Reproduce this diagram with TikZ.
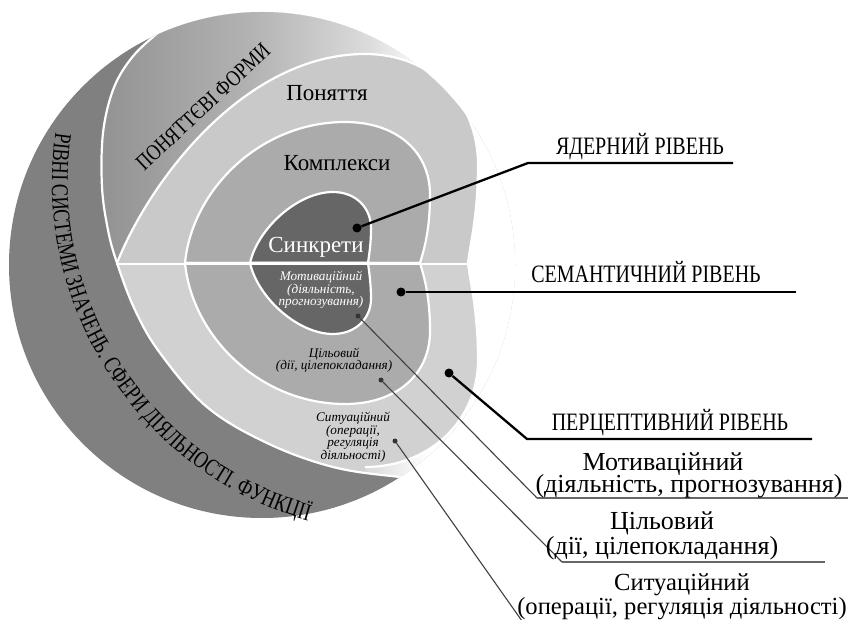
\documentclass[tikz,border=0pt]{standalone}
\usepackage{fontspec}
\setmainfont{Liberation Serif}
\newfontfamily\capsfont[FakeStretch=0.8]{Liberation Serif}
\newfontfamily\bandfont[FakeStretch=0.77]{Liberation Serif}
\usetikzlibrary{decorations.text}
\usetikzlibrary{positioning}
\pgfdeclarehorizontalshading{topface}{100bp}{color(0bp)=(black!42); color(26bp)=(black!42); color(43bp)=(black!30); color(57bp)=(black!14); color(64bp)=(white); color(100bp)=(white)}
\tikzstyle{whiteline} = [draw=white,line width=2.2pt]
% rim of the upper face of the disc
\newcommand{\facerim}{plot[smooth,tension=0.6] coordinates {(188,-10) (153,-37) (130,-60) (113,-90) (103,-133) (102,-187) (108,-230) (117,-263) (135,-310) (160,-353) (207,-407) (267,-443) (333,-467) (400,-477) (470,-483)}}
% hearts: upper and lower lobes
\newcommand{\outerupper}{(117,-263) .. controls (150,-180) and (245,-54) .. (365,-54) .. controls (430,-54) and (478,-100) .. (478,-165) .. controls (478,-215) and (470,-245) .. (468,-263)}
\newcommand{\outerlower}{(468,-263) .. controls (470,-281) and (478,-311) .. (478,-360) .. controls (478,-420) and (430,-467) .. (365,-467)}
\newcommand{\midupper}{(185,-263) .. controls (192,-190) and (260,-122) .. (345,-122) .. controls (396,-122) and (430,-151) .. (430,-195) .. controls (430,-230) and (424,-250) .. (420,-263)}
\newcommand{\midlower}{(420,-263) .. controls (424,-276) and (430,-296) .. (430,-331) .. controls (430,-375) and (396,-404) .. (345,-404) .. controls (260,-404) and (192,-336) .. (185,-263)}
\newcommand{\coreupper}{(250,-263) .. controls (258,-228) and (298,-192) .. (333,-192) .. controls (356,-192) and (371,-208) .. (371,-228) .. controls (371,-245) and (369,-255) .. (368,-263)}
\newcommand{\corelower}{(368,-263) .. controls (369,-271) and (371,-283) .. (371,-299) .. controls (371,-318) and (356,-334) .. (333,-334) .. controls (298,-334) and (258,-298) .. (250,-263)}

\begin{document}
\begin{tikzpicture}[x=1pt,y=1pt,
    main leader/.style={line width=2.3pt,black},
    sub leader/.style={line width=1.1pt,black!75},
    sub line/.style={line width=2pt,black!60},
    main dot/.style={circle,fill=black,minimum size=9pt,inner sep=0pt},
    sub dot/.style={circle,fill=black!80,minimum size=5pt,inner sep=0pt},
    level label/.style={font=\capsfont\fontsize{25}{28}\selectfont,anchor=base,inner sep=0pt},
    kind label/.style={font=\fontsize{26}{23}\selectfont,align=center,anchor=base,inner sep=0pt},
    band label/.style={font=\fontsize{23}{26}\selectfont,anchor=base,inner sep=0pt},
    small label/.style={font=\itshape\fontsize{13.2}{12.5}\selectfont,align=center,inner sep=0pt}]
  \useasboundingbox (0,0) rectangle (848,-620);

  % disc
  \begin{scope}
    \clip (262,-265) circle (253);
    \fill[black!50,even odd rule] (262,-265) circle (253) \facerim -- (600,-483) -- (600,-10) -- cycle;
    \begin{scope}
      \clip \facerim -- (600,-483) -- (600,-10) -- cycle;
      \shade[shading=topface] (100,0) rectangle (520,-530);
      \fill[black!21] \outerupper -- cycle;
      \fill[black!18] (60,-263) -- \outerlower -- (365,-540) -- (60,-540) -- cycle;
    \end{scope}
    \draw[whiteline] \facerim;
  \end{scope}
  \fill[black!33] \midupper -- cycle;
  \fill[black!33] \midlower -- cycle;
  \fill[black!60] \coreupper -- cycle;
  \fill[black!60] \corelower -- cycle;
  \draw[whiteline] \outerupper;
  \draw[whiteline] \outerlower;
  \draw[whiteline] \midupper -- cycle;
  \draw[whiteline] \midlower -- cycle;
  \draw[whiteline] \coreupper -- cycle;
  \draw[whiteline] \corelower -- cycle;
  \draw[draw=white,line width=2.6pt] (116,-264) -- (469,-264);

  % texts on the disc
  \path[decorate,decoration={text along path,text align=center,
      text={|\bandfont\fontsize{24}{24}\selectfont|РІВНІ СИСТЕМИ ЗНАЧЕНЬ. СФЕРИ ДІЯЛЬНОСТІ. ФУНКЦІЇ}}]
    (404,-182) ++(168:352) arc[start angle=168,end angle=258,radius=352];
  \node[font=\capsfont\fontsize{22.5}{24}\selectfont,rotate=43] (PF) at (203,-107) {ПОНЯТТЄВІ ФОРМИ};
  \node[band label] (PON) at (327,-101) {Поняття};
  \node[band label] (KOM) at (337,-171) {Комплекси};
  \node[band label,white] (SYN) at (316,-253) {Синкрети};
  \node[small label,white] (MOT) at (321,-290) {Мотиваційний\\(діяльність,\\прогнозування)};
  \node[small label] (TSIL) at (334,-360) {Цільовий\\(дії, цілепокладання)};
  \node[small label] (SYT) at (353,-437) {Ситуаційний\\(операції,\\регуляція\\діяльності)};

  % levels
  \node[main dot] (DY) at (357,-228) {};
  \node[main dot] (DS) at (401,-292) {};
  \node[main dot] (DP) at (449,-373) {};
  \node[sub dot] (DM) at (358,-316) {};
  \node[sub dot] (DC) at (381,-380) {};
  \node[sub dot] (DT) at (395,-441) {};

  \coordinate (YB) at (528,-163);
  \coordinate (YE) at (733,-163);
  \coordinate (SE) at (796,-292);
  \coordinate (PB) at (527,-439);
  \coordinate (PE) at (812,-439);
  \coordinate (MB) at (537,-498);
  \coordinate (ME) at (848,-498);
  \coordinate (CB) at (562,-562);
  \coordinate (CE) at (825,-562);
  \coordinate (TB) at (522,-621);

  \draw[main leader] (DY) -- (YB) -- (YE);
  \draw[main leader] (DS) -- (SE);
  \draw[main leader] (DP) -- (PB) -- (PE);
  \draw[sub leader] (DM) -- (MB);
  \draw[sub line] (MB) -- (ME);
  \draw[sub leader] (DC) -- (CB);
  \draw[sub line] (CB) -- (CE);
  \draw[sub leader] (DT) -- (TB);

  \node[level label] (LY) at (640,-155) {ЯДЕРНИЙ РІВЕНЬ};
  \node[level label] (LS) at (646,-283) {СЕМАНТИЧНИЙ РІВЕНЬ};
  \node[level label] (LP) at (670,-430) {ПЕРЦЕПТИВНИЙ РІВЕНЬ};
  \node[kind label] (LM1) at (663,-470) {Мотиваційний};
  \node[kind label] (LM2) at (689,-492) {(діяльність, прогнозування)};
  \node[kind label] (LC) at (662,-554) {Цільовий\\(дії, цілепокладання)};
  \node[kind label,font=\fontsize{24.6}{22}\selectfont] (LT) at (682,-614) {Ситуаційний\\(операції, регуляція діяльності)};
\end{tikzpicture}
\end{document}
